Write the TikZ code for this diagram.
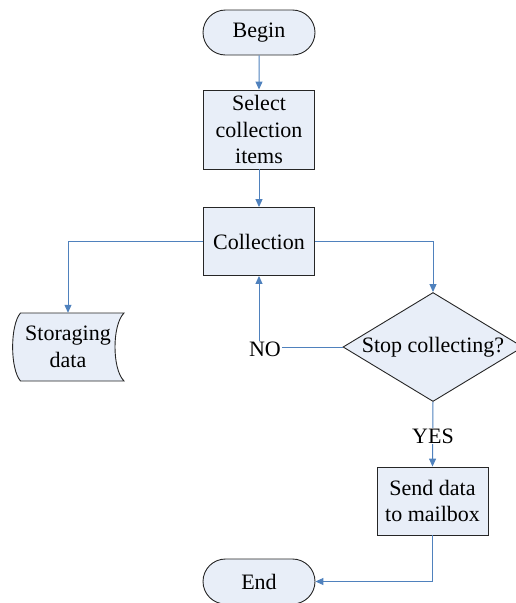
\documentclass[tikz,border=0pt]{standalone}
\usepackage{fontspec}
\setmainfont{Liberation Serif}
\usetikzlibrary{arrows.meta,shapes.geometric,shapes.misc}
\definecolor{boxfill}{RGB}{232,238,248}
\definecolor{linkblue}{RGB}{79,129,189}
\begin{document}
\begin{tikzpicture}[x=1pt,y=-1pt,
  every node/.style={font=\fontsize{22}{26.5}\selectfont, align=center},
  term/.style={rounded rectangle, draw=black!85, fill=boxfill, line width=0.9pt, minimum width=112pt, minimum height=45pt, inner sep=0pt},
  procbox/.style={rectangle, draw=black!85, fill=boxfill, line width=0.9pt, minimum width=111pt, inner sep=0pt},
  decision/.style={diamond, draw=black!85, fill=boxfill, line width=0.9pt, minimum width=180pt, minimum height=109pt, aspect=1.65, inner sep=0pt},
  link/.style={draw=linkblue, line width=1pt, -{Triangle[length=8pt,width=7pt]}},
  lbl/.style={fill=white, inner sep=1pt}
]
\useasboundingbox (0,0) rectangle (515,603);
\node[term] (begin) at (259,32.5) {Begin};
\node[procbox, minimum height=79pt] (select) at (259,129.5) {Select\\collection\\items};
\node[procbox, minimum height=68pt] (coll) at (259,241.5) {Collection};
\node[minimum width=110pt, minimum height=68pt, inner sep=0pt] (store) at (68,347) {};
\draw[draw=black!85, fill=boxfill, line width=0.9pt]
  (20.5,313) -- (124,313) .. controls (112,325) and (112,369) .. (124,381)
  -- (20.5,381) .. controls (10,369) and (10,325) .. (20.5,313) -- cycle;
\node (storetext) at (store) {Storaging\\data};
\node[decision] (dec) at (433,347) {Stop collecting?};
\node[procbox, minimum height=68pt] (send) at (432.5,501) {Send data\\to mailbox};
\node[term] (end) at (259,581.5) {End};

\draw[link] (begin) -- (select);
\draw[link] (select) -- (coll);
\draw[link] (coll.west) -| (store.north);
\draw[link] (coll.east) -| (dec.north);
\draw[link] (dec.west) -| (coll.south);
\node[lbl] (no) at (265,349) {NO};
\draw[link] (dec.south) -- (send.north);
\node[lbl] (yes) at (433,436) {YES};
\draw[link] (send.south) |- (end.east);
\end{tikzpicture}
\end{document}
